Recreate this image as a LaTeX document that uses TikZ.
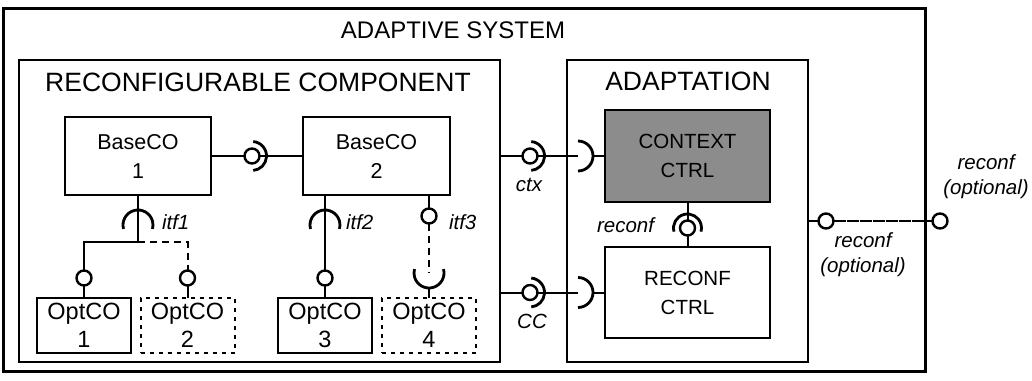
\documentclass[tikz,border=0pt]{standalone}
\usepackage{fontspec}
\setmainfont{Liberation Sans}
\definecolor{ctxgray}{RGB}{140,140,140}
\begin{document}
\begin{tikzpicture}[x=1pt,y=-1pt,
  line width=2pt,
  frame/.style={draw, line width=2pt, inner sep=0pt, outer sep=0pt},
  comp/.style={frame, align=center, font=\fontsize{21.5}{29}\selectfont},
  opt/.style={frame, align=center, minimum width=94pt, minimum height=55pt, font=\fontsize{23.5}{28}\selectfont},
  optdash/.style={opt, dash pattern=on 4pt off 5pt},
  ball/.style={circle, draw, fill=white, line width=2.4pt, minimum size=15pt, inner sep=0pt, outer sep=0pt},
  sock/.style={line width=2.8pt},
  dsh/.style={dash pattern=on 7pt off 5pt},
  finedash/.style={dash pattern=on 12pt off 1pt},
  lbl/.style={font=\fontsize{20.5}{25}\selectfont\itshape, inner sep=0pt, align=center},
  title/.style={inner sep=0pt},
]
\useasboundingbox (0,0) rectangle (1032,380);

% containers
\node[frame, line width=3pt, minimum width=922pt, minimum height=363pt] (sys) at (464,189.5) {};
\node[frame, minimum width=481pt, minimum height=302pt] (rc) at (259.5,211) {};
\node[frame, minimum width=241pt, minimum height=302pt] (ad) at (687.5,211) {};

\node[title, font=\fontsize{24}{28}\selectfont] (tsys) at (453,30) {ADAPTIVE SYSTEM};
\node[title, font=\fontsize{26.5}{30}\selectfont] (trc) at (258,82) {RECONFIGURABLE COMPONENT};
\node[title, font=\fontsize{26.5}{30}\selectfont] (tad) at (688,81) {ADAPTATION};

% components
\node[comp, minimum width=146pt, minimum height=78pt] (b1) at (138,156) {BaseCO\\1};
\node[comp, minimum width=147pt, minimum height=78pt] (b2) at (376.5,156) {BaseCO\\2};
\node[opt] (o1) at (84,325.5) {OptCO\\1};
\node[optdash] (o2) at (187.5,325.5) {OptCO\\2};
\node[opt] (o3) at (325,325.5) {OptCO\\3};
\node[optdash] (o4) at (429,325.5) {OptCO\\4};
\node[comp, fill=ctxgray, minimum width=165pt, minimum height=92pt, font=\fontsize{20.5}{29}\selectfont] (cx) at (687.5,156) {CONTEXT\\CTRL};
\node[comp, minimum width=165pt, minimum height=91pt, font=\fontsize{20.5}{29}\selectfont] (rcf) at (687.5,292.5) {RECONF\\CTRL};

% balls
\node[ball] (k1) at (252,156) {};
\node[ball] (k2) at (84,278) {};
\node[ball] (k3) at (187.5,278) {};
\node[ball] (k4) at (325,278) {};
\node[ball] (k5) at (429,216) {};
\node[ball] (k6) at (530,156) {};
\node[ball] (k7) at (530,292.5) {};
\node[ball] (k8) at (687.5,228) {};
\node[ball] (k9) at (826,221) {};
\node[ball] (k10) at (940,221) {};

% socket centres
\coordinate (j1) at (138,242);
\coordinate (s1) at (138,225);
\coordinate (s2) at (325,225);
\coordinate (s3) at (429,273);
\coordinate (s3b) at (429,288);
\coordinate (s4) at (578,156);
\coordinate (s4e) at (593,156);
\coordinate (s5) at (578,292.5);
\coordinate (s5e) at (593,292.5);

% BaseCO1 -- BaseCO2
\draw (b1.east) -- (k1.west);
\draw (k1.east) -- (b2.west);
\draw[sock] (k1.center) ++(-85:14.5) arc[start angle=-85, end angle=85, radius=14.5];

% itf1
\draw (b1.south) -- (j1);
\draw[sock] (s1) ++(165:15) arc[start angle=165, end angle=375, radius=15];
\draw (j1) -| (k2.north);
\draw[dsh] (j1) -| (k3.north);
\draw (k2.south) -- (o1.north);
\draw (k3.south) -- (o2.north);

% itf2
\draw (b2.south -| k4) -- (k4.north);
\draw[sock] (s2) ++(165:15) arc[start angle=165, end angle=375, radius=15];
\draw (k4.south) -- (o3.north);

% itf3
\draw (b2.south -| k5) -- (k5.north);
\draw[dsh] (k5.south) -- (s3);
\draw[sock] (s3) ++(-15:15) arc[start angle=-15, end angle=195, radius=15];
\draw (s3b) -- (o4.north);

% ctx
\draw (rc.east |- k6) -- (k6.west);
\draw (k6.east) -- (s4);
\draw[sock] (k6.center) ++(-85:14.5) arc[start angle=-85, end angle=85, radius=14.5];
\draw[sock] (s4) ++(-90:15) arc[start angle=-90, end angle=90, radius=15];
\draw (s4e) -- (cx.west);

% CC
\draw (rc.east |- k7) -- (k7.west);
\draw (k7.east) -- (s5);
\draw[sock] (k7.center) ++(-85:14.5) arc[start angle=-85, end angle=85, radius=14.5];
\draw[sock] (s5) ++(-90:15) arc[start angle=-90, end angle=90, radius=15];
\draw (s5e) -- (rcf.west);

% reconf internal
\draw (cx.south) -- (k8.north);
\draw[sock] (k8.center) ++(165:14) arc[start angle=165, end angle=375, radius=14];
\draw (k8.south) -- (rcf.north);

% reconf optional
\draw (ad.east |- k9) -- (k9.west);
\draw[finedash] (k9.east) -- (sys.east |- k9);
\draw (sys.east |- k10) -- (k10.west);

% labels
\node[lbl, anchor=west] (l1) at (161,222) {itf1};
\node[lbl, anchor=west] (l2) at (345,222) {itf2};
\node[lbl, anchor=west] (l3) at (448,222) {itf3};
\node[lbl] (lctx) at (529,185) {ctx};
\node[lbl] (lcc) at (532,321) {CC};
\node[lbl, anchor=east] (lrc) at (655,225) {reconf};
\node[lbl] (lro1) at (863,255) {reconf\\(optional)};
\node[lbl] (lro2) at (986,177) {reconf\\(optional)};
\end{tikzpicture}
\end{document}
